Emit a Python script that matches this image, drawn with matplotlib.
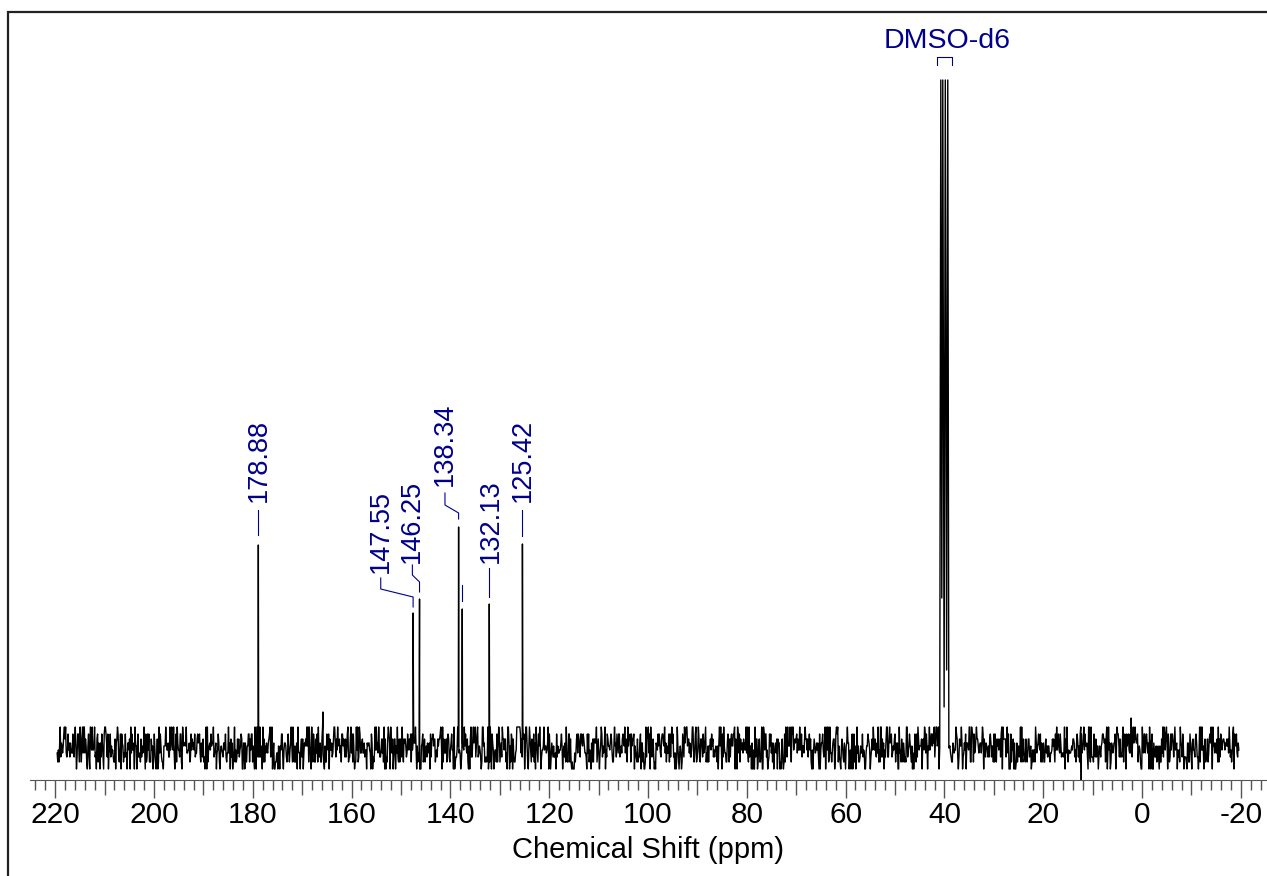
import numpy as np
import matplotlib.pyplot as plt
from matplotlib.patches import Rectangle
from matplotlib.ticker import FixedLocator, MultipleLocator

plt.rcParams['font.family'] = ['Liberation Sans', 'DejaVu Sans']

# 13C peaks (ppm, intensity above baseline)
peak_ppm = [178.88, 147.55, 146.25, 138.34, 137.60, 132.13, 125.42]
peak_height = [203, 135, 149, 221, 139, 144, 204]
peak_labels = ['178.88', '147.55', '146.25', '138.34', '', '132.13', '125.42']

# small spikes sitting in the noise
small_ppm = [165.8, 12.3, 2.2]
small_height = [36, -34, 30]

# DMSO-d6 multiplet trace
dmso_ppm = [40.95, 40.73, 40.53, 40.33, 40.06, 39.82, 39.55, 39.32, 39.10]
dmso_height = [0, 668, 150, 668, 41, 668, 78, 668, 0]

# baseline noise: level codes (0-9) and the intensity of each level, estimated
noise_levels = [-21, -14, -9, -5, -2, 2, 5, 9, 14, 21]
noise_digits = (
    "3141592653589793238462643383279502884197169399375105820974944592307816"
    "4062862089986280348253421170679821480865132823066470938446095505822317"
    "2535940812848111745028410270193852110555964462294895493038196442881097"
    "5665933446128475648233786783165271201909145648566923460348610454326648"
    "2133936072602491412737245870066063155881748815209209628292540917153643"
    "6789259036001133053054882046652138414695194151160943305727036575959195"
    "3092186117381932611793105118548074462379962749567351885752724891227938"
    "1830119491298336733624406566430860213949463952247371907021798609437027"
    "7053921717629317675238467481846766940513200056812714526356082778577134"
    "2757789609173637178721468440901224953430146549585371050792279689258923"
    "5420199561121290219608640344181598136297747713099605187072113499999983"
    "7297804995105973173281609631859502445945534690830264252230825334468503"
    "5261931188171010003137838752886587533208381420617177669147303598253490"
    "4287554687311595628638823537875937519577818577805321712268066130019278"
    "9380952572010654858632788659361533818279682303019520353018529689957736"
    "2259941389124972177528347913151557485724245415069595082953311686172785"
    "5889075098381754637464939319255060400927701671139009848824012858361603"
    "5637076601047101819429555961989467678374494482553797747268471040475346"
    "4620804668425906949129331367702898915210475216205696602405803815019351"
    "1253382430035587640247496473263914199272604269922796782354781636009341"
    "7216412199245863150302861829745557067498385054945885869269956909272107"
    "9750930295532116534498720275596023648066549911988183479775356636980742"
    "6542527862551818417574672890977772793800081647060016145249192173217214"
    "7723501414419735685481613611573525521334757418494684385233239073941433"
    "3454776241686251898356948556209921922218427255025425688767179049460165"
    "3466804988627232791786085784383827967976681454100953883786360950680064"
    "2251252051173929848960841284886269456042419652850222106611863067442786"
    "2203919494504712371378696095636437191728746776465757396241389086583264"
)
noise_span = (219.6, -19.6)

# label layout: text position, text bottom and leader bend heights
label_ppm = [178.7, 154.1, 147.7, 141.1, 137.60, 131.9, 125.3]
text_h = [246, 175, 185, 262, 0, 185, 246]
lead_h = [
    (213, 238, 238, 238),
    (141, 151, 159, 170),
    (156, 166, 173, 183),
    (229, 235, 243, 255),
    (147, 163, 163, 163),
    (151, 180, 180, 180),
    (212, 238, 238, 238),
]

blue = '#00008b'

fig = plt.figure(figsize=(12.67, 8.76), dpi=100)
ax = fig.add_axes([30 / 1267, 96 / 876, 1 - 30 / 1267, 768 / 876])

noise = np.array([noise_levels[int(c)] for c in noise_digits], dtype=float)
x_noise = np.linspace(noise_span[0], noise_span[1], len(noise))
keep = (x_noise > 41.0) | (x_noise < 39.0)

xs = np.concatenate([x_noise[keep], peak_ppm, small_ppm, dmso_ppm])
ys = np.concatenate([noise[keep], peak_height, small_height, dmso_height])
order = np.argsort(-xs)
ax.plot(xs[order], ys[order], color='black', lw=1.0)

# peak labels with leader lines
for p, lp, lab, th, (h0, h1, h2, h3) in zip(peak_ppm, label_ppm, peak_labels, text_h, lead_h):
    bend = lp if (lab and h2 != h3) else p
    ax.plot([p, p, bend, bend], [h0, h1, h2, h3], color=blue, lw=0.8, clip_on=False)
    if lab:
        ax.text(lp, th, lab, rotation=90, ha='center', va='bottom',
                color=blue, fontsize=19.5)

# solvent label
ax.plot([41.5, 41.5, 38.5, 38.5], [683, 691, 691, 683], color=blue, lw=0.8)
ax.text(39.5, 694, 'DMSO-d6', ha='center', va='bottom', color=blue, fontsize=20.5)

ax.set_xlim(225.1, -25.3)
ax.set_ylim(-32, 736)

for s in ['top', 'left', 'right']:
    ax.spines[s].set_visible(False)
ax.spines['bottom'].set_color('#555555')
ax.set_yticks([])

ax.xaxis.set_major_locator(FixedLocator(np.arange(-20, 230, 10)))
ax.xaxis.set_minor_locator(MultipleLocator(2))
ax.tick_params(axis='x', which='major', length=13, width=1, color='#555555',
               labelsize=21.5, pad=2)
ax.tick_params(axis='x', which='minor', length=7.2, width=1, color='#555555')
ax.figure.canvas.draw()
for t in ax.xaxis.get_major_ticks():
    v = t.get_loc()
    if round(v) % 20 != 0:
        t.tick1line.set_markersize(10.8)
        t.label1.set_visible(False)
ax.xaxis.set_major_formatter(lambda v, pos: f'{v:.0f}')
ax.set_xlabel('Chemical Shift (ppm)', fontsize=21, labelpad=5)

# outer frame
fig.patches.append(Rectangle((8 / 1267, -0.1), 2, 1.1 - 12 / 876, transform=fig.transFigure,
                             fill=False, lw=1.6, edgecolor='#222222', clip_on=False))

fig.savefig('out.png', dpi=100)
